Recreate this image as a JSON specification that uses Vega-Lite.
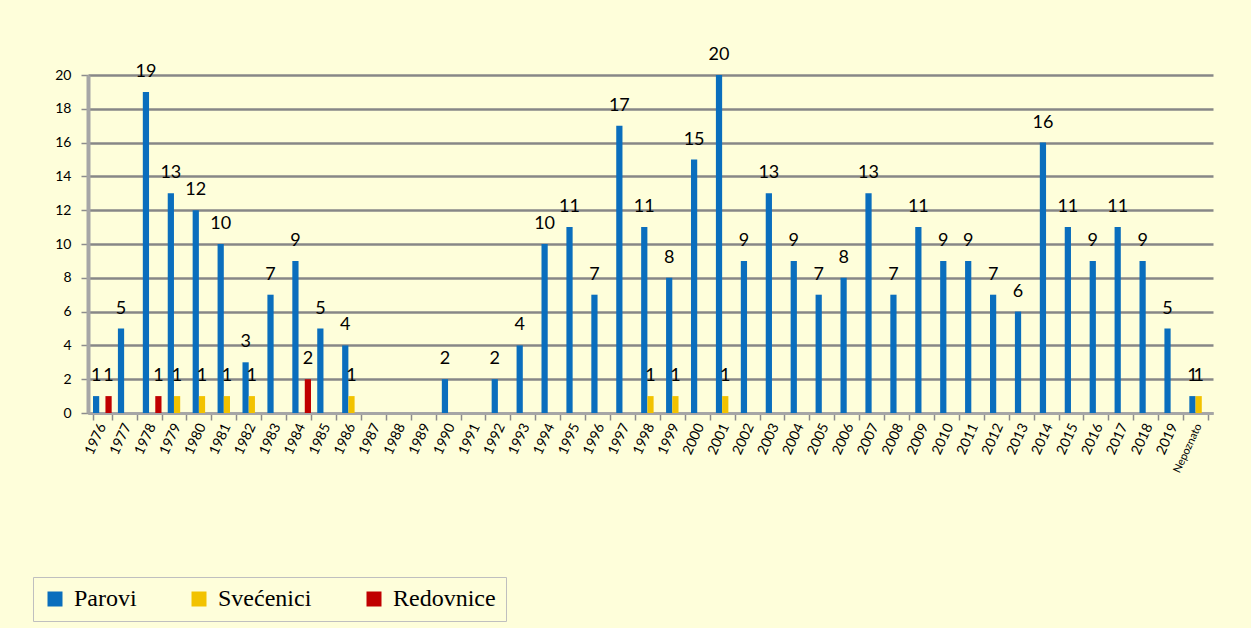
{
  "$schema": "https://vega.github.io/schema/vega-lite/v6.json",
  "width": 1125,
  "height": 338,
  "autosize": "none",
  "padding": {"left": 88, "top": 75, "right": 38, "bottom": 215},
  "background": "#FEFEDA",
  "data": {
    "values": [
      {"year": "1976", "series": "Parovi", "value": 1},
      {"year": "1976", "series": "Redovnice", "value": 1},
      {"year": "1977", "series": "Parovi", "value": 5},
      {"year": "1978", "series": "Parovi", "value": 19},
      {"year": "1978", "series": "Redovnice", "value": 1},
      {"year": "1979", "series": "Parovi", "value": 13},
      {"year": "1979", "series": "Svećenici", "value": 1},
      {"year": "1980", "series": "Parovi", "value": 12},
      {"year": "1980", "series": "Svećenici", "value": 1},
      {"year": "1981", "series": "Parovi", "value": 10},
      {"year": "1981", "series": "Svećenici", "value": 1},
      {"year": "1982", "series": "Parovi", "value": 3},
      {"year": "1982", "series": "Svećenici", "value": 1},
      {"year": "1983", "series": "Parovi", "value": 7},
      {"year": "1984", "series": "Parovi", "value": 9},
      {"year": "1984", "series": "Redovnice", "value": 2},
      {"year": "1985", "series": "Parovi", "value": 5},
      {"year": "1986", "series": "Parovi", "value": 4},
      {"year": "1986", "series": "Svećenici", "value": 1},
      {"year": "1990", "series": "Parovi", "value": 2},
      {"year": "1992", "series": "Parovi", "value": 2},
      {"year": "1993", "series": "Parovi", "value": 4},
      {"year": "1994", "series": "Parovi", "value": 10},
      {"year": "1995", "series": "Parovi", "value": 11},
      {"year": "1996", "series": "Parovi", "value": 7},
      {"year": "1997", "series": "Parovi", "value": 17},
      {"year": "1998", "series": "Parovi", "value": 11},
      {"year": "1998", "series": "Svećenici", "value": 1},
      {"year": "1999", "series": "Parovi", "value": 8},
      {"year": "1999", "series": "Svećenici", "value": 1},
      {"year": "2000", "series": "Parovi", "value": 15},
      {"year": "2001", "series": "Parovi", "value": 20},
      {"year": "2001", "series": "Svećenici", "value": 1},
      {"year": "2002", "series": "Parovi", "value": 9},
      {"year": "2003", "series": "Parovi", "value": 13},
      {"year": "2004", "series": "Parovi", "value": 9},
      {"year": "2005", "series": "Parovi", "value": 7},
      {"year": "2006", "series": "Parovi", "value": 8},
      {"year": "2007", "series": "Parovi", "value": 13},
      {"year": "2008", "series": "Parovi", "value": 7},
      {"year": "2009", "series": "Parovi", "value": 11},
      {"year": "2010", "series": "Parovi", "value": 9},
      {"year": "2011", "series": "Parovi", "value": 9},
      {"year": "2012", "series": "Parovi", "value": 7},
      {"year": "2013", "series": "Parovi", "value": 6},
      {"year": "2014", "series": "Parovi", "value": 16},
      {"year": "2015", "series": "Parovi", "value": 11},
      {"year": "2016", "series": "Parovi", "value": 9},
      {"year": "2017", "series": "Parovi", "value": 11},
      {"year": "2018", "series": "Parovi", "value": 9},
      {"year": "2019", "series": "Parovi", "value": 5},
      {"year": "Nepoznato", "series": "Parovi", "value": 1},
      {"year": "Nepoznato", "series": "Svećenici", "value": 1}
    ]
  },
  "encoding": {
    "x": {
      "field": "year",
      "type": "nominal",
      "scale": {
        "domain": ["1976","1977","1978","1979","1980","1981","1982","1983","1984","1985","1986","1987","1988","1989","1990","1991","1992","1993","1994","1995","1996","1997","1998","1999","2000","2001","2002","2003","2004","2005","2006","2007","2008","2009","2010","2011","2012","2013","2014","2015","2016","2017","2018","2019","Nepoznato"],
        "paddingInner": 0.25,
        "paddingOuter": 0.2
      },
      "axis": {
        "title": null,
        "labelAngle": -65,
        "labelFont": "Lato",
        "labelFontSize": {"condition": {"test": "datum.value == 'Nepoznato'", "value": 11}, "value": 14},
        "labelColor": "#000000",
        "labelPadding": 4,
        "tickBand": "extent",
        "tickColor": "#8C8C8C",
        "tickSize": 7,
        "tickWidth": 1.5,
        "domainColor": "#A6A6A6",
        "domainWidth": 3,
        "grid": false
      }
    },
    "xOffset": {
      "field": "series",
      "type": "nominal",
      "scale": {"domain": ["Parovi", "Svećenici", "Redovnice"]}
    },
    "y": {
      "field": "value",
      "type": "quantitative",
      "scale": {"domain": [0, 20], "nice": false},
      "axis": {
        "title": null,
        "values": [0, 2, 4, 6, 8, 10, 12, 14, 16, 18, 20],
        "labelFont": "Lato",
        "labelFontSize": 14,
        "labelColor": "#000000",
        "labelPadding": 10,
        "tickColor": "#8C8C8C",
        "tickSize": 7,
        "tickWidth": 1.5,
        "domainColor": "#A6A6A6",
        "domainWidth": 4,
        "grid": true,
        "gridColor": "#878787",
        "gridWidth": 2.5
      }
    }
  },
  "layer": [
    {
      "mark": {"type": "bar"},
      "encoding": {
        "color": {
          "field": "series",
          "type": "nominal",
          "scale": {
            "domain": ["Parovi", "Svećenici", "Redovnice"],
            "range": ["#0A6EBD", "#F2C200", "#C00000"]
          },
          "legend": {
            "title": null,
            "orient": "none",
            "legendX": -55,
            "legendY": 502,
            "direction": "horizontal",
            "columns": 3,
            "symbolType": "square",
            "symbolSize": 225,
            "symbolStrokeWidth": 0,
            "labelColor": "#000000",
            "labelOffset": 7,
            "columnPadding": 50,
            "padding": 10,
            "fillColor": "#FEFEDA",
            "strokeColor": "#BFBFBF",
            "labelLimit": 300
          }
        }
      }
    },
    {
      "mark": {"type": "text", "baseline": "alphabetic", "dy": -15, "font": "Lato", "fontSize": 18, "color": "#000000"},
      "encoding": {
        "text": {"field": "value", "type": "quantitative"}
      }
    }
  ],
  "config": {
    "view": {"stroke": null},
    "legend": {"labelFont": "Liberation Serif", "labelFontSize": 24}
  }
}
